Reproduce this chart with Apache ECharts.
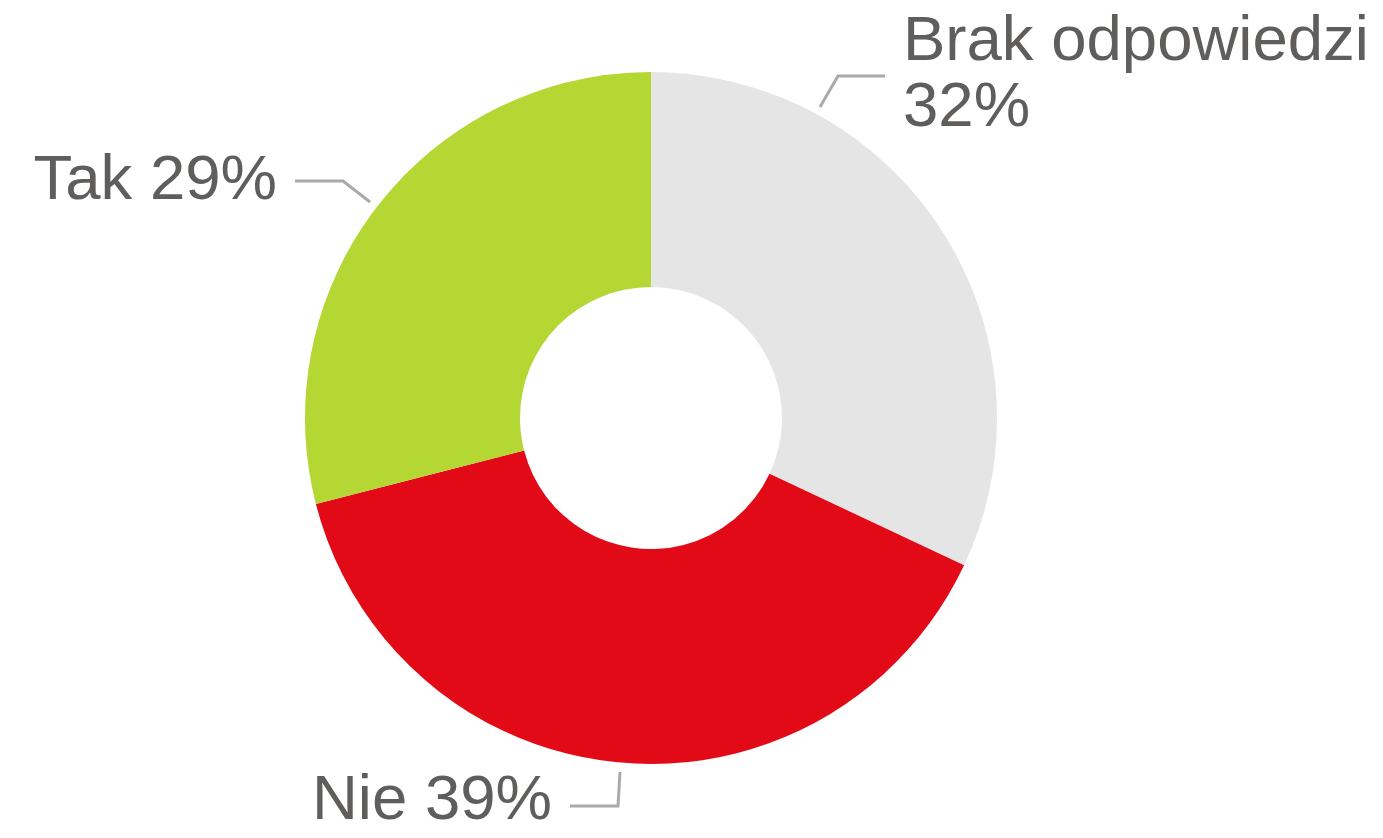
<!DOCTYPE html>
<html>
<head>
<meta charset="utf-8">
<script src="https://cdn.jsdelivr.net/npm/echarts@6/dist/echarts.min.js"></script>
<style>
  html, body { margin: 0; padding: 0; background: #fff; }
  #chart { width: 1383px; height: 838px; }
</style>
</head>
<body>
<div id="chart"></div>
<script>
var names = ['Brak odpowiedzi', 'Nie', 'Tak'];
var values = [32, 39, 29];
var colors = ['#e4e5e4', '#e30a17', '#b5d733'];

// where each label sits, and its leader line
var labelPos = [
    {x: 903, y: 75, align: 'left', line: [[820, 107], [838, 76], [885, 76]]},
    {x: 552, y: 801, align: 'right', line: [[620, 772], [618, 806], [570, 806]]},
    {x: 277, y: 181, align: 'right', line: [[370, 202], [343, 181], [295, 181]]}
];

var dom = document.getElementById('chart');
var myChart = echarts.init(dom);
var option = {
    animation: false,
    series: [
        {
            type: 'pie',
            center: [651, 418],
            radius: [131, 346],
            startAngle: 90,
            clockwise: true,
            avoidLabelOverlap: false,
            emphasis: { disabled: true },
            color: colors,
            label: {
                show: true,
                position: 'outside',
                color: '#5f5e5c',
                fontSize: 63.5,
                lineHeight: 66,
                fontFamily: 'Liberation Sans, Arial, sans-serif',
                formatter: function (p) {
                    return p.dataIndex === 0 ? p.name + '\n' + p.value + '%' : p.name + ' ' + p.value + '%';
                }
            },
            labelLine: {
                show: true,
                lineStyle: { color: '#aaaaaa', width: 3 }
            },
            labelLayout: function (params) {
                var lp = labelPos[params.dataIndex];
                return {
                    x: lp.x,
                    y: lp.y,
                    align: lp.align,
                    verticalAlign: 'middle',
                    labelLinePoints: lp.line
                };
            },
            data: names.map(function (n, i) {
                return { name: n, value: values[i] };
            })
        }
    ]
};
myChart.setOption(option, true);
</script>
</body>
</html>
